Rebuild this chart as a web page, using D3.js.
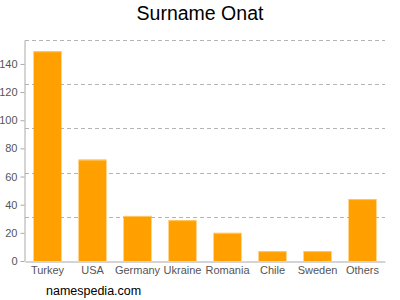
<!DOCTYPE html>
<html>
<head>
<meta charset="utf-8">
<script src="https://cdn.jsdelivr.net/npm/d3@7"></script>
<style>
  body { margin: 0; background: #fff; }
  text { font-family: "Liberation Sans", Arial, sans-serif; }
</style>
</head>
<body>
<div id="chart"></div>
<script>
var countries = ["Turkey", "USA", "Germany", "Ukraine", "Romania", "Chile", "Sweden", "Others"];
var counts = [149, 72, 32, 29, 20, 7, 7, 44];
var yTicks = [0, 20, 40, 60, 80, 100, 120, 140];

var width = 400;
var height = 300;
var plotLeft = 25, plotRight = 385, plotTop = 40, plotBottom = 261;
var yMax = 157;

var svg = d3.select("#chart").append("svg")
  .attr("width", width)
  .attr("height", height);

/* Scales */
var x = d3.scaleBand()
  .domain(countries)
  .range([plotLeft, plotRight])
  .paddingInner(0.38)
  .paddingOuter(0.19);

var y = d3.scaleLinear()
  .domain([0, yMax])
  .range([plotBottom, plotTop]);

/* Title */
svg.append("text")
  .attr("x", width / 2)
  .attr("y", 20)
  .attr("text-anchor", "middle")
  .style("font-size", "19.5px")
  .attr("fill", "#000")
  .text("Surname Onat");

/* Grid lines */
var grid = d3.range(1, 6).map(k => yMax * k / 5);
svg.append("g")
  .selectAll("line")
  .data(grid).enter()
  .append("line")
  .attr("x1", plotLeft)
  .attr("x2", plotRight)
  .attr("y1", d => Math.round(y(d)) + 0.5)
  .attr("y2", d => Math.round(y(d)) + 0.5)
  .attr("stroke", "#b4b4b4")
  .attr("stroke-dasharray", "4,3");

/* Bars */
var bars = svg.append("g");
bars.selectAll("rect")
  .data(countries).enter()
  .append("rect")
  .attr("x", d => x(d))
  .attr("y", (d, i) => y(counts[i]))
  .attr("width", x.bandwidth())
  .attr("height", (d, i) => plotBottom - y(counts[i]))
  .attr("fill", "#ffa000");

bars.selectAll("line")
  .data(countries).enter()
  .append("line")
  .attr("x1", d => x(d))
  .attr("x2", d => x(d) + x.bandwidth())
  .attr("y1", (d, i) => y(counts[i]) + 0.5)
  .attr("y2", (d, i) => y(counts[i]) + 0.5)
  .attr("stroke", "#ffc864");

/* Axes */
var yAxis = d3.axisLeft(y).tickValues(yTicks).tickSize(4).tickSizeOuter(0);
var gy = svg.append("g")
  .attr("transform", `translate(${plotLeft - 0.5},0)`)
  .call(yAxis);
gy.select(".domain").attr("stroke", "#aaa");
gy.selectAll(".tick line").attr("stroke", "#aaa");
gy.selectAll(".tick text")
  .attr("fill", "#555")
  .style("font-size", "11px")
  .style("font-family", "Liberation Sans, Arial, sans-serif");

var xAxis = d3.axisBottom(x).tickSize(0).tickPadding(5).tickSizeOuter(0);
var gx = svg.append("g")
  .attr("transform", `translate(0,${plotBottom + 0.5})`)
  .call(xAxis);
gx.select(".domain").attr("stroke", "#aaa");
gx.selectAll(".tick text")
  .attr("fill", "#555")
  .style("font-size", "11px")
  .style("font-family", "Liberation Sans, Arial, sans-serif");

/* Footer */
svg.append("text")
  .attr("x", 46)
  .attr("y", 295)
  .style("font-size", "12.5px")
  .attr("fill", "#000")
  .text("namespedia.com");
</script>
</body>
</html>
